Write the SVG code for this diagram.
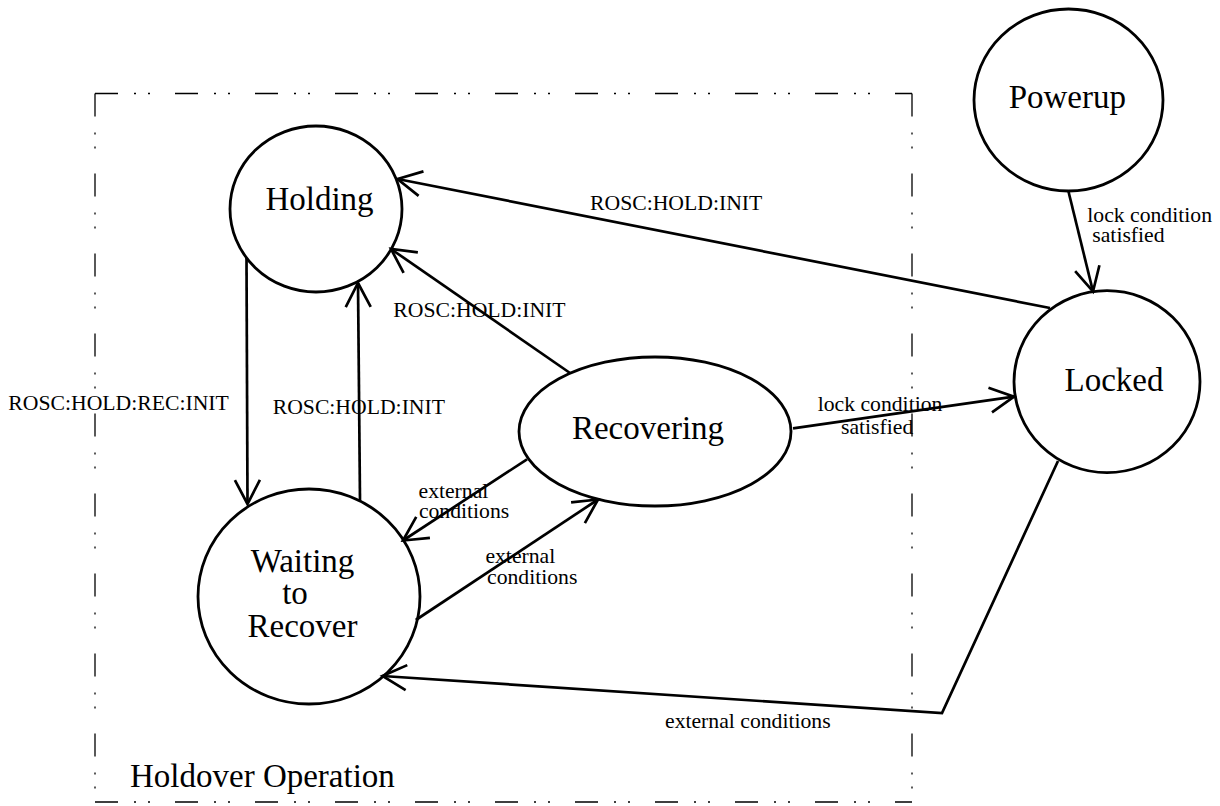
<svg xmlns="http://www.w3.org/2000/svg" width="1220" height="806" viewBox="0 0 1220 806">
<style>
.node{fill:none;stroke:#000;stroke-width:2.8}
.nl{font-family:"Liberation Serif","Times New Roman",serif;font-size:33px;fill:#000;text-anchor:middle}
.el{font-family:"Liberation Serif","Times New Roman",serif;font-size:21.7px;fill:#000}
.edge{fill:none;stroke:#000;stroke-width:2.7;marker-end:url(#arr)}
.frame{fill:none;stroke:#000;stroke-width:1.3;stroke-dasharray:23 16 2 12 2 25}
</style>
<defs>
<marker id="arr" markerUnits="userSpaceOnUse" orient="auto" viewBox="-30 -16 34 32" markerWidth="34" markerHeight="32" refX="0" refY="0" overflow="visible">
<path d="M-24,-12.5 L0,0 L-24,12.5" fill="none" stroke="#000" stroke-width="2.7"/>
</marker>
</defs>
<rect width="1220" height="806" fill="#fff"/>
<g id="holdover-frame">
<line class="frame" x1="95" y1="93.5" x2="912" y2="93.5"/>
<line class="frame" x1="95" y1="93.5" x2="95" y2="802"/>
<line class="frame" x1="912" y1="93.5" x2="912" y2="802"/>
<line class="frame" x1="95" y1="802" x2="912" y2="802" stroke="#808080" stroke-width="2"/>
<text class="nl" x="130" y="786.7" style="text-anchor:start">Holdover Operation</text>
</g>
<g id="connectors">
<line class="edge" x1="246.5" y1="258" x2="247.5" y2="504"/>
<line class="edge" x1="360" y1="501" x2="358" y2="283"/>
<line class="edge" x1="570" y1="373" x2="391" y2="249"/>
<line class="edge" x1="1050" y1="308" x2="397.5" y2="179"/>
<line class="edge" x1="793" y1="428.3" x2="1014" y2="396.7"/>
<line class="edge" x1="527" y1="459.3" x2="403" y2="540.5"/>
<line class="edge" x1="415.8" y1="620" x2="598" y2="499.5"/>
<polyline class="edge" points="1058,461 942,713 382.5,676"/>
<line class="edge" x1="1068.3" y1="190.7" x2="1093" y2="291.5"/>
<text class="el" x="590" y="209.5">ROSC:HOLD:INIT</text>
<text class="el" x="393.3" y="317.3">ROSC:HOLD:INIT</text>
<text class="el" x="8.3" y="410">ROSC:HOLD:REC:INIT</text>
<text class="el" x="272.7" y="414">ROSC:HOLD:INIT</text>
<text class="el" x="817.7" y="410.7">lock condition</text>
<text class="el" x="841" y="434.3">satisfied</text>
<text class="el" x="1087.3" y="221.7">lock condition</text>
<text class="el" x="1092.3" y="242.3">satisfied</text>
<text class="el" x="418.5" y="497.7">external</text>
<text class="el" x="418.9" y="518.3">conditions</text>
<text class="el" x="485.4" y="563.3">external</text>
<text class="el" x="487" y="584">conditions</text>
<text class="el" x="665" y="728.3">external conditions</text>
</g>
<g id="node-holding">
<ellipse class="node" cx="316" cy="209" rx="86" ry="83"/>
<text class="nl" x="319.5" y="210">Holding</text>
</g>
<g id="node-powerup">
<ellipse class="node" cx="1068.5" cy="100" rx="94.5" ry="91"/>
<text class="nl" x="1067.3" y="107.7">Powerup</text>
</g>
<g id="node-locked">
<ellipse class="node" cx="1107" cy="381.7" rx="93" ry="91"/>
<text class="nl" x="1114" y="390.7">Locked</text>
</g>
<g id="node-recovering">
<ellipse class="node" cx="655" cy="431.5" rx="136" ry="74.5"/>
<text class="nl" x="648" y="439">Recovering</text>
</g>
<g id="node-waiting">
<ellipse class="node" cx="309" cy="596.5" rx="111" ry="107.5"/>
<text class="nl" x="302.5" y="571.7">Waiting</text>
<text class="nl" x="295" y="604">to</text>
<text class="nl" x="302.5" y="636.7">Recover</text>
</g>
</svg>
